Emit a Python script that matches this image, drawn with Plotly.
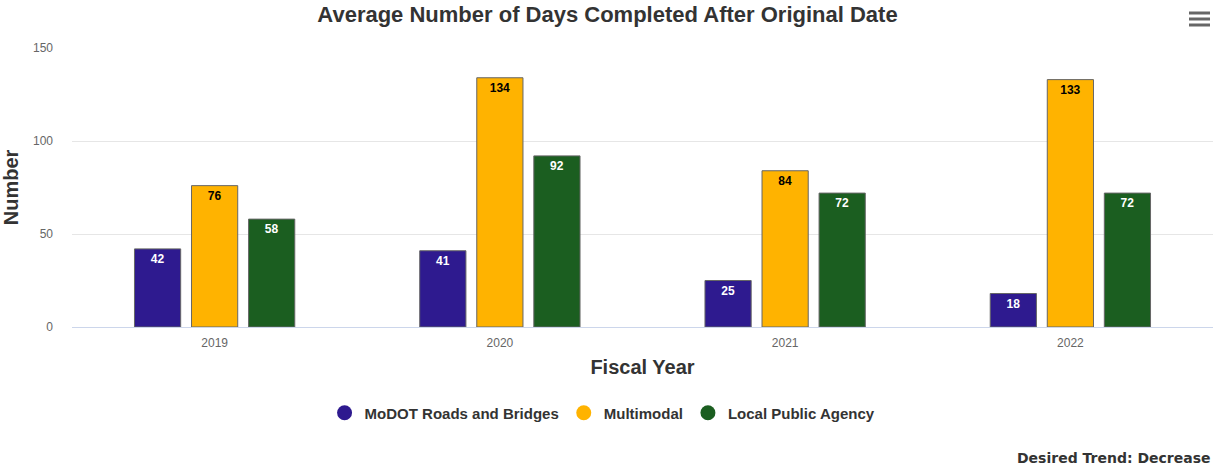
import plotly.graph_objects as go

years = ["2019", "2020", "2021", "2022"]
modot = [42, 41, 25, 18]
multimodal = [76, 134, 84, 133]
lpa = [58, 92, 72, 72]

series = [
    ("MoDOT Roads and Bridges", modot, "#2E1A8F", "#FFFFFF"),
    ("Multimodal", multimodal, "#FFB300", "#000000"),
    ("Local Public Agency", lpa, "#1B5E20", "#FFFFFF"),
]

FONT = "Liberation Sans, Arial, sans-serif"

fig = go.Figure()
for name, vals, color, tcolor in series:
    fig.add_trace(go.Bar(
        x=years, y=vals, name=name, showlegend=False, legendgroup=name,
        marker=dict(color=color, line=dict(color="#666666", width=1)),
        text=[str(v) for v in vals],
        textposition="inside", insidetextanchor="end",
        textangle=0,
        textfont=dict(family=FONT, size=12, color=tcolor, weight="bold"),
        cliponaxis=False,
    ))
# legend entries with circle symbols
for name, vals, color, tcolor in series:
    fig.add_trace(go.Scatter(
        x=[None], y=[None], mode="markers", name=name, legendgroup=name,
        marker=dict(symbol="circle", size=15, color=color),
        showlegend=True,
    ))

fig.update_layout(
    width=1215, height=469,
    margin=dict(l=72, r=2, t=48, b=142, autoexpand=False),
    paper_bgcolor="white", plot_bgcolor="white",
    barmode="group", bargap=0.4, bargroupgap=0.19,
    title=dict(text="<b>Average Number of Days Completed After Original Date</b>",
               x=0.5, xanchor="center", y=1 - 14 / 469, yanchor="middle",
               font=dict(family=FONT, size=22, color="#333333")),
    font=dict(family=FONT, color="#666666"),
    showlegend=True,
    legend=dict(orientation="h", x=0.465, xanchor="center",
                y=-0.308, yanchor="middle",
                font=dict(family=FONT, size=15, color="#333333", weight="bold"),
                traceorder="normal", itemwidth=30),
    xaxis=dict(
        showgrid=False, showline=True, linecolor="#ccd6eb", linewidth=1,
        ticks="", tickfont=dict(family=FONT, size=12, color="#666666"),
        ticklabelstandoff=5,
        title=dict(text="<b>Fiscal Year</b>", font=dict(family=FONT, size=20, color="#333333"), standoff=10),
    ),
    yaxis=dict(
        range=[0, 150], tickvals=[0, 50, 100, 150],
        showgrid=True, gridcolor="#e6e6e6", gridwidth=1,
        zeroline=False, showline=False, ticks="",
        tickfont=dict(family=FONT, size=12, color="#666666"),
        ticklabelstandoff=18,
        title=dict(text="<b>Number</b>", font=dict(family=FONT, size=20, color="#333333"), standoff=10),
    ),
    annotations=[
        dict(text="<b>Desired Trend: Decrease</b>", xref="paper", yref="paper",
             x=1.0, y=-0.47, xanchor="right", yanchor="middle", showarrow=False,
             font=dict(family="DejaVu Sans, sans-serif", size=14, color="#333333")),
    ],
    shapes=[
        dict(type="line", xref="paper", yref="paper", x0=(1189 - 72) / 1141, x1=(1210 - 72) / 1141,
             y0=(327 - yy) / 279, y1=(327 - yy) / 279, line=dict(color="#666666", width=3))
        for yy in (13, 19, 25)
    ],
)

fig.write_html("out.html", config={"displayModeBar": False},
               post_script="document.body.style.margin='0';document.body.style.overflow='hidden';")
